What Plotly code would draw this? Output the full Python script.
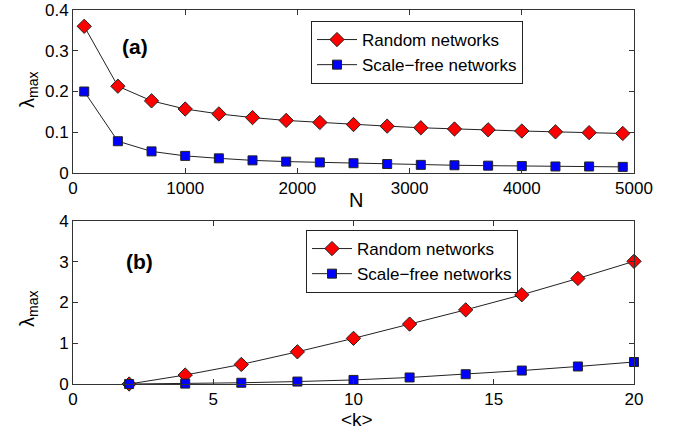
import plotly.graph_objects as go

# Panel (a): lambda_max vs N
N_vals = [100, 400, 700, 1000, 1300, 1600, 1900, 2200, 2500, 2800, 3100, 3400, 3700, 4000, 4300, 4600, 4900]
rand_a = [0.360, 0.213, 0.177, 0.157, 0.145, 0.136, 0.129, 0.124, 0.119, 0.115, 0.111, 0.108, 0.106, 0.103, 0.101, 0.099, 0.097]
sf_a = [0.200, 0.078, 0.053, 0.042, 0.036, 0.031, 0.028, 0.026, 0.024, 0.022, 0.020, 0.019, 0.018, 0.017, 0.016, 0.016, 0.015]

# Panel (b): lambda_max vs <k>
k_vals = [2, 4, 6, 8, 10, 12, 14, 16, 18, 20]
rand_b = [0.0, 0.22, 0.48, 0.79, 1.12, 1.47, 1.82, 2.19, 2.59, 3.01]
sf_b = [0.0, 0.01, 0.03, 0.06, 0.10, 0.16, 0.24, 0.33, 0.43, 0.54]

xticks_a = [0, 1000, 2000, 3000, 4000, 5000]
yticks_a = [0, 0.1, 0.2, 0.3, 0.4]
yticklabels_a = ["0", "0.1", "0.2", "0.3", "0.4"]
xticks_b = [0, 5, 10, 15, 20]
yticks_b = [0, 1, 2, 3, 4]

labels = ["Random networks", "Scale\u2212free networks"]

W, H = 673, 432
FONT = "Liberation Sans, Arial, Helvetica, sans-serif"

def px(x):
    return x / W

def py(y):
    return 1 - y / H

diamond = dict(symbol="diamond", size=11, color="#ff0000", line=dict(color="#222222", width=1))
square = dict(symbol="square", size=9, color="#0000ff", line=dict(color="#222222", width=1))
line = dict(color="#222222", width=1)

fig = go.Figure()
fig.add_trace(go.Scatter(x=N_vals, y=rand_a, mode="lines+markers", name=labels[0], marker=diamond, line=line,
                         xaxis="x", yaxis="y", legend="legend", cliponaxis=False))
fig.add_trace(go.Scatter(x=N_vals, y=sf_a, mode="lines+markers", name=labels[1], marker=square, line=line,
                         xaxis="x", yaxis="y", legend="legend", cliponaxis=False))
fig.add_trace(go.Scatter(x=k_vals, y=rand_b, mode="lines+markers", name=labels[0], marker=diamond, line=line,
                         xaxis="x2", yaxis="y2", legend="legend2", cliponaxis=False))
fig.add_trace(go.Scatter(x=k_vals, y=sf_b, mode="lines+markers", name=labels[1], marker=square, line=line,
                         xaxis="x2", yaxis="y2", legend="legend2", cliponaxis=False))

axis_common = dict(showline=True, linecolor="#333333", linewidth=1, mirror="ticks", ticks="inside",
                   ticklen=5, tickcolor="#333333", showgrid=False, zeroline=False,
                   tickfont=dict(family=FONT, size=17, color="#000000"), automargin=False)

xdom = [px(73), px(634)]
legend_common = dict(xanchor="left", yanchor="top", bgcolor="white",
                     bordercolor="#222222", borderwidth=1, font=dict(family=FONT, size=17, color="#000000"),
                     itemwidth=40, tracegroupgap=0)
fig.update_layout(
    width=W, height=H,
    margin=dict(l=0, r=0, t=0, b=0),
    paper_bgcolor="white", plot_bgcolor="white",
    showlegend=True,
    xaxis=dict(domain=xdom, range=[0, 5000], tickmode="array", tickvals=xticks_a, anchor="y", **axis_common),
    yaxis=dict(domain=[py(173), py(10)], range=[0, 0.4], tickmode="array", tickvals=yticks_a,
               ticktext=yticklabels_a, anchor="x", ticklabeloverflow="allow", **axis_common),
    xaxis2=dict(domain=xdom, range=[0, 20], tickmode="array", tickvals=xticks_b, anchor="y2", **axis_common),
    yaxis2=dict(domain=[py(384), py(221)], range=[0, 4], tickmode="array", tickvals=yticks_b,
                anchor="x2", **axis_common),
    legend=dict(x=px(311), y=py(21), **legend_common),
    legend2=dict(x=px(306), y=py(230), **legend_common),
)

def note(text, x, y, size, angle=0):
    return dict(text=text, x=px(x), y=py(y), xref="paper", yref="paper", showarrow=False,
                xanchor="center", yanchor="middle", textangle=angle,
                font=dict(family=FONT, size=size, color="#000000"))

ann = [
    note("<b>(a)</b>", 135, 46, 21),
    note("<b>(b)</b>", 139, 261, 21),
    note("N", 356, 200, 20),
    note("&lt;k&gt;", 357, 419, 19),
    note("\u03bb<sub>max</sub>", 28, 90, 20, -90),
    note("\u03bb<sub>max</sub>", 28, 309, 20, -90),
]
fig.update_layout(annotations=ann)

fig.write_html("out.html")
